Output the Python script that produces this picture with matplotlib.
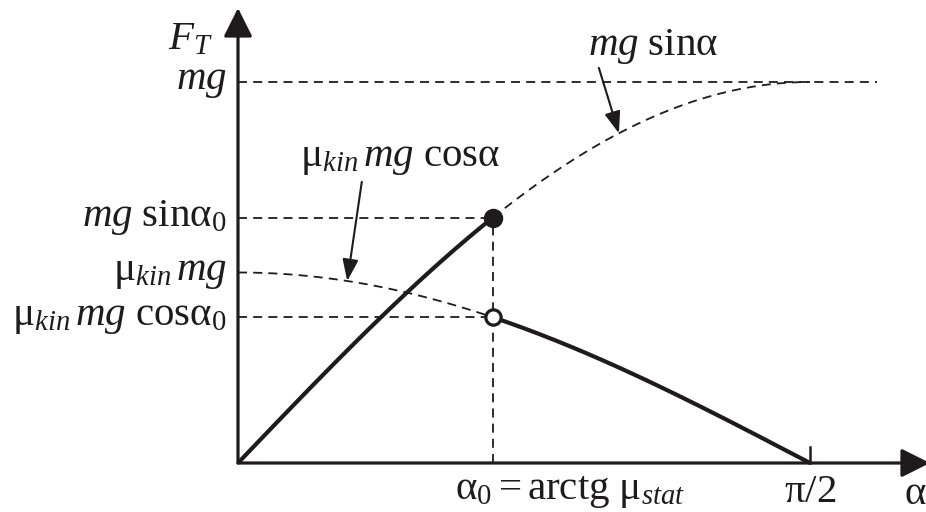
import numpy as np
import matplotlib
matplotlib.use("Agg")
import matplotlib.pyplot as plt

plt.rcParams['mathtext.fontset'] = 'custom'
plt.rcParams['mathtext.rm'] = 'Liberation Serif'
plt.rcParams['mathtext.it'] = 'Liberation Serif:italic'
plt.rcParams['font.family'] = ['Liberation Serif', 'DejaVu Serif']

# ---- data ----
alpha0 = 0.70          # arctg mu_stat (rad)
mu_kin = 0.50          # kinetic friction coefficient
alpha_max = np.pi / 2
ytick_labels = [r'$mg$', r'$mg\ \mathrm{sin\alpha_0}$', r'$\mathrm{\mu}_{kin}\,mg$',
                r'$\mathrm{\mu}_{kin}\,mg\ \mathrm{cos\alpha_0}$']
xtick_labels = [r'$\mathrm{\alpha_0 = arctg}\ \mathrm{\mu}_{stat}$', r'$\mathrm{\pi/2}$']

C = '#1f1b1c'
W, H = 926, 512
fig = plt.figure(figsize=(W / 100, H / 100), dpi=100)
ax = fig.add_axes([0, 0, 1, 1])
# pixel mapping: origin at (238, 463), pi/2 at x=810, mg at y=82
sx = alpha_max / (810 - 238)
sy = 1.0 / (463 - 82)
ax.set_xlim(-238 * sx, (W - 238) * sx)
ax.set_ylim(-(H - 463) * sy, 463 * sy)
ax.axis('off')

dash = dict(color=C, lw=1.3, dashes=(5.0, 3.4))

a_rise = np.linspace(0, alpha0, 100)
a_fall = np.linspace(alpha0, alpha_max, 200)
a_pre = np.linspace(0, alpha0, 100)

# dashed continuations
ax.plot(a_fall, np.sin(a_fall), **dash)
ax.plot(a_pre, mu_kin * np.cos(a_pre), **dash)
# dashed helper lines
ax.plot([0, 1.755], [1, 1], **dash)
ax.plot([0, alpha0], [np.sin(alpha0)] * 2, **dash)
ax.plot([0, alpha0], [mu_kin * np.cos(alpha0)] * 2, **dash)
ax.plot([alpha0, alpha0], [0, np.sin(alpha0)], **dash)

# solid friction force
ax.plot(a_rise, np.sin(a_rise), color=C, lw=3.0, solid_capstyle='butt')
ax.plot(a_fall, mu_kin * np.cos(a_fall), color=C, lw=3.0, solid_capstyle='butt')

# points
ax.plot([alpha0], [np.sin(alpha0)], 'o', color=C, ms=13, zorder=5)
ax.plot([alpha0], [mu_kin * np.cos(alpha0)], 'o', mfc='white', mec=C, ms=11, mew=2.3, zorder=5)

# axes with arrows
axarr = dict(arrowstyle='-|>,head_length=0.8,head_width=0.4', lw=2.3,
             color=C, shrinkA=0, shrinkB=0, mutation_scale=22)
ax.annotate('', xy=((930 - 238) * sx, 0), xytext=(0, 0), arrowprops=axarr,
            annotation_clip=False)
ax.annotate('', xy=(0, (463 - 8) * sy), xytext=(0, 0), arrowprops=axarr,
            annotation_clip=False)
# pi/2 tick
ax.plot([alpha_max, alpha_max], [0, 16 * sy], color=C, lw=1.8)

fs = 29.5
# y labels
ylev = [1.0, np.sin(alpha0), mu_kin, mu_kin * np.cos(alpha0)]
for lab, yv in zip(ytick_labels, ylev):
    ax.text(-11 * sx, yv, lab, ha='right', va='center', fontsize=fs, color=C)
ax.text(-25 * sx, 1.11, r'$F_T$', ha='right', va='center', fontsize=fs, color=C)

# x labels
ax.text(alpha0 - 38 * sx, -29 * sy, xtick_labels[0], ha='left', va='center', fontsize=fs, color=C)
ax.text(alpha_max, -29 * sy, xtick_labels[1], ha='center', va='center', fontsize=fs, color=C)
ax.text((915 - 238) * sx, -31 * sy, r'$\mathrm{\alpha}$', ha='center', va='center', fontsize=fs, color=C)

# annotations
arr = dict(arrowstyle='-|>,head_length=0.6,head_width=0.22', lw=1.5, color=C,
           shrinkA=0, shrinkB=0, mutation_scale=22)
ax.annotate('', xy=(1.046, np.sin(1.046)), xytext=(0.991, 1.037), arrowprops=arr)
ax.text(1.14, 1.092, r'$mg\ \mathrm{sin\alpha}$', ha='center', va='center', fontsize=fs, color=C)
ax.annotate('', xy=(0.30, mu_kin * np.cos(0.30)), xytext=(0.340, 0.738), arrowprops=arr)
ax.text(0.17, 0.80, r'$\mathrm{\mu}_{kin}\,mg\ \mathrm{cos\alpha}$', ha='left', va='center',
        fontsize=fs, color=C)

fig.savefig('out.png', dpi=100)
